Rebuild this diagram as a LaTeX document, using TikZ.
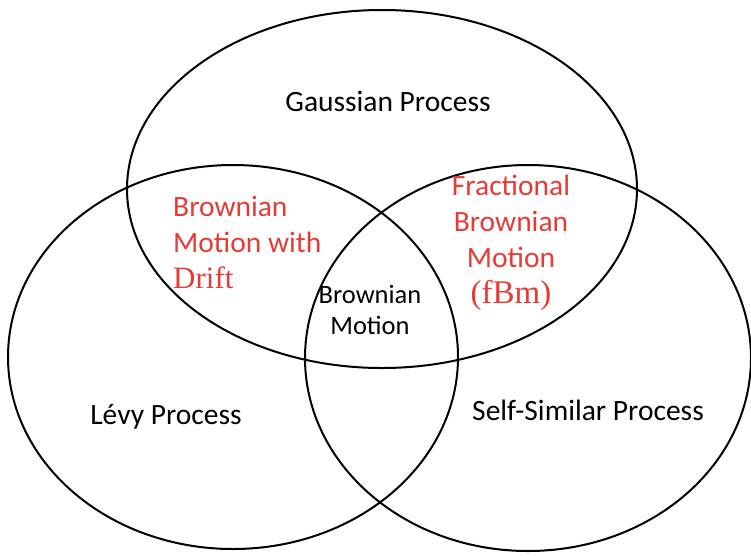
\documentclass[tikz,border=0pt]{standalone}
\usepackage{fontspec}
\setmainfont{Carlito}
\newfontfamily\serifface{Liberation Serif}
\usetikzlibrary{positioning}

\definecolor{setred}{RGB}{232,58,52}

\begin{document}
\begin{tikzpicture}[x=1pt,y=-1pt,
	set/.style={draw=black,line width=2pt},
	label/.style={font=\fontsize{29.5}{36}\selectfont, align=center, inner sep=0pt},
	special/.style={label, text=setred},
	core/.style={label, font=\fontsize{26.5}{31}\selectfont}]
	\useasboundingbox (0,0) rectangle (751,555);

	% the three sets
	\draw[set] (382,189) ellipse [x radius=255pt, y radius=179pt];
	\draw[set] (233,357) ellipse [x radius=225pt, y radius=192pt];
	\draw[set] (528,358) ellipse [x radius=223pt, y radius=193pt];

	\node[label] (gauss) at (388,101) {Gaussian Process};
	\node[label] (levy) at (166,417) {Lévy Process};
	\node[label] (selfsim) at (588,410) {Self-Similar Process};

	\node[special, align=left, anchor=west] (drift) at (173,242) {Brownian\\Motion with\\{\serifface\fontsize{31}{36}\selectfont Drift}};
	\node[special] (fbm) at (511,243) {Fractional\\Brownian\\Motion\\{\serifface\fontsize{33}{36}\selectfont (fBm)}};
	\node[core] (bm) at (370,310) {Brownian\\Motion};
\end{tikzpicture}
\end{document}
